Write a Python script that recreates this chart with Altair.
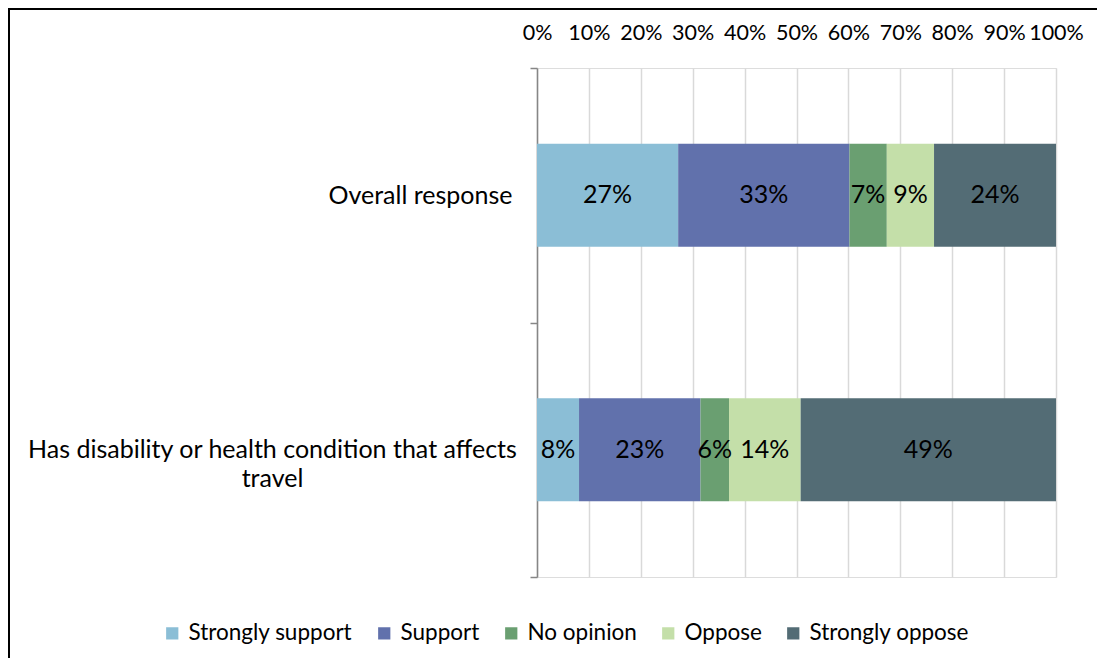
import altair as alt
import pandas as pd

categories = ["Overall response", "Has disability or health condition that affects travel"]
responses = ["Strongly support", "Support", "No opinion", "Oppose", "Strongly oppose"]
colors = ["#8BBED6", "#6171AC", "#6A9F71", "#C4DFA9", "#536C75"]

overall_values = [27.2, 33.0, 7.2, 9.1, 23.5]
overall_labels = ["27%", "33%", "7%", "9%", "24%"]
disab_values = [8.1, 23.4, 5.5, 13.8, 49.2]
disab_labels = ["8%", "23%", "6%", "14%", "49%"]

rows = []
for cat, vals, labs in [(categories[0], overall_values, overall_labels),
                        (categories[1], disab_values, disab_labels)]:
    for i, (r, v, l) in enumerate(zip(responses, vals, labs)):
        rows.append({"category": cat, "response": r, "order": i, "value": v / 100.0, "label": l})
df = pd.DataFrame(rows)

FONT = "Lato"
long_cat = categories[1]
is_long = f"datum.value == '{long_cat}'"

base = alt.Chart(df).transform_stack(
    stack="value", groupby=["category"], as_=["v0", "v1"],
    sort=[alt.SortField("order", order="ascending")]
).transform_calculate(mid="(datum.v0 + datum.v1) / 2")

yenc = alt.Y(
    "category:N", sort=categories, title=None,
    scale=alt.Scale(paddingInner=0, paddingOuter=0),
    axis=alt.Axis(
        tickBand="extent", domainColor="#868686", tickColor="#868686",
        tickSize=7, domainWidth=1.5, tickWidth=1.5,
        labelFont=FONT, labelFontSize=25, labelColor="black",
        labelLimit=600, labelLineHeight=29,
        labelExpr=f"datum.value == '{long_cat}' ? ['Has disability or health condition that affects', 'travel'] : datum.label",
        labelAlign={"condition": {"test": is_long, "value": "center"}, "value": "right"},
        labelPadding={"condition": {"test": is_long, "value": 258}, "value": 18},
        grid=False,
    ),
)

bars = base.mark_bar(size=103).encode(
    x=alt.X("v0:Q", scale=alt.Scale(domain=[0, 1]), title=None,
            axis=alt.Axis(orient="top", format=".0%", values=[i / 10 for i in range(11)],
                          ticks=False, domain=False, grid=True, gridColor="#D9D9D9",
                          gridWidth=1.5, labelFont=FONT, labelFontSize=21.5,
                          labelColor="black", labelPadding=24, labelFlush=False)),
    x2="v1:Q",
    y=yenc,
    color=alt.Color("response:N", sort=responses,
                    scale=alt.Scale(domain=responses, range=colors),
                    legend=alt.Legend(title=None, orient="none", direction="horizontal",
                                      columns=5, legendX=-376, legendY=554,
                                      symbolType="square", symbolSize=150,
                                      symbolStrokeWidth=0, symbolOpacity=1,
                                      labelFont=FONT, labelFontSize=22.5, labelColor="black",
                                      labelLimit=400, columnPadding=20, labelOffset=5)),
    order=alt.Order("order:Q"),
)

texts = base.mark_text(font=FONT, fontSize=25, color="black").encode(
    x="mid:Q",
    y=alt.Y("category:N", sort=categories),
    text="label:N",
)

border = alt.Chart(pd.DataFrame({"a": [0]})).mark_rect(
    fill=None, stroke="black", strokeWidth=2
).encode(
    x=alt.value(-528), x2=alt.value(700), y=alt.value(-59), y2=alt.value(700)
)

chart = alt.layer(bars, texts, border).properties(
    width=519, height=509,
    autosize=alt.AutoSizeParams(type="none"),
    padding={"left": 529, "top": 60, "right": 41, "bottom": 81},
).configure_view(stroke=None).configure(background="white")

chart.save("out.html", embed_options={"renderer": "svg", "actions": False})
